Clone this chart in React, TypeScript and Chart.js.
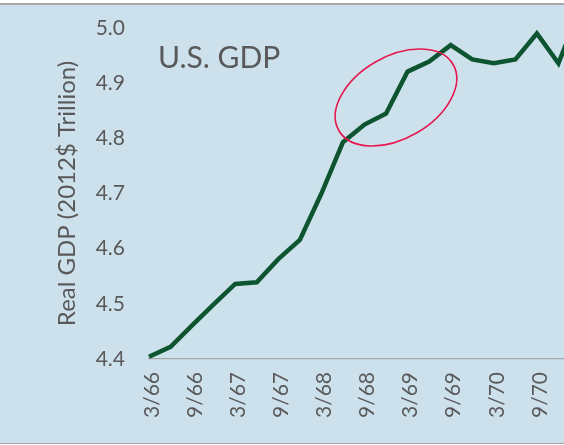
import React, { useEffect, useRef } from "react";
import { Chart, registerables } from "chart.js";

Chart.register(...registerables);

const quarterLabels = [
  "3/66", "6/66", "9/66", "12/66",
  "3/67", "6/67", "9/67", "12/67",
  "3/68", "6/68", "9/68", "12/68",
  "3/69", "6/69", "9/69", "12/69",
  "3/70", "6/70", "9/70", "12/70",
  "3/71",
];

const gdpValues = [
  4.404, 4.422, 4.461, 4.499,
  4.536, 4.539, 4.581, 4.616,
  4.700, 4.793, 4.825, 4.845,
  4.921, 4.939, 4.969, 4.943,
  4.936, 4.943, 4.990, 4.936,
  5.035,
];

const shownTickLabels = ["3/66", "9/66", "3/67", "9/67", "3/68", "9/68", "3/69", "9/69", "3/70", "9/70"];

const yMin = 4.4;
const yMax = 5.0;
const yStep = 0.1;

const chartTitle = "U.S. GDP";
const yAxisTitle = "Real GDP (2012$ Trillion)";

// annotation ellipse centre in data coordinates (category index, value)
const highlightCenter = { index: 11.46, value: 4.874 };

const FONT = "Lato, 'Noto Sans', sans-serif";
const TEXT_GRAY = "#595959";
const BG = "#cde1ed";

export default function App() {
  const canvasRef = useRef<HTMLCanvasElement | null>(null);

  useEffect(() => {
    const canvas = canvasRef.current;
    if (!canvas) return;

    const overlay = {
      id: "overlay",
      afterDatasetsDraw(chart: any) {
        const ctx = chart.ctx;
        const xs = chart.scales.x;
        const ys = chart.scales.y;
        ctx.save();
        ctx.fillStyle = TEXT_GRAY;
        ctx.font = `30px ${FONT}`;
        ctx.textAlign = "left";
        ctx.textBaseline = "alphabetic";
        ctx.fillText(chartTitle, 158, 68);
        ctx.restore();
        const cx = xs.getPixelForValue(highlightCenter.index);
        const cy = ys.getPixelForValue(highlightCenter.value);
        ctx.save();
        ctx.strokeStyle = "#e6194f";
        ctx.lineWidth = 1.6;
        ctx.beginPath();
        ctx.ellipse(cx, cy, 66, 41, -Math.PI / 6, 0, Math.PI * 2);
        ctx.stroke();
        ctx.restore();
      },
    };

    const chart = new Chart(canvas, {
      type: "line",
      data: {
        labels: quarterLabels,
        datasets: [
          {
            data: gdpValues,
            borderColor: "#0d5530",
            borderWidth: 4.5,
            pointRadius: 0,
            tension: 0,
            fill: false,
            clip: false as any,
          },
        ],
      },
      options: {
        responsive: false,
        animation: false,
        devicePixelRatio: 1,
        layout: { padding: { top: 28, right: 20, bottom: 0, left: 0 } },
        plugins: {
          legend: { display: false },
          tooltip: { enabled: false },
          title: { display: false },
        },
        scales: {
          x: {
            type: "category",
            offset: false,
            grid: { display: false, drawTicks: false },
            border: { display: true, color: "#a6a6a6", width: 1.2 },
            ticks: {
              autoSkip: false,
              minRotation: 90,
              maxRotation: 90,
              padding: 13,
              labelOffset: 3,
              color: TEXT_GRAY,
              font: { family: FONT, size: 21 },
              callback: (_v: any, i: number) =>
                shownTickLabels.includes(quarterLabels[i]) ? quarterLabels[i] : "",
            },
            afterFit: (s: any) => {
              s.height = 86;
              s.paddingLeft = 0;
              s.paddingRight = 0;
            },
          },
          y: {
            min: yMin,
            max: yMax,
            grid: { display: false, drawTicks: false },
            border: { display: false },
            ticks: {
              stepSize: yStep,
              padding: 24,
              color: TEXT_GRAY,
              font: { family: FONT, size: 21 },
              callback: (v: any) => Number(v).toFixed(1),
            },
            title: {
              display: true,
              text: yAxisTitle,
              color: TEXT_GRAY,
              font: { family: FONT, size: 24 },
              padding: { top: 53, bottom: 0 },
            },
            afterFit: (s: any) => {
              s.width = 149;
              s.paddingTop = 0;
              s.paddingBottom = 0;
            },
          },
        },
      },
      plugins: [overlay],
    });

    return () => {
      chart.destroy();
    };
  }, []);

  return (
    <div
      style={{
        position: "fixed",
        left: 0,
        top: 0,
        width: 564,
        height: 445,
        overflow: "hidden",
        background: "#ffffff",
      }}
    >
      <div
        style={{
          position: "absolute",
          left: 0,
          top: 3,
          width: 600,
          height: 438,
          background: BG,
          borderTop: "2px solid #a6a6a6",
          borderBottom: "1px solid #a6a6a6",
        }}
      />
      <canvas
        ref={canvasRef}
        width={600}
        height={445}
        style={{ position: "absolute", left: 0, top: 0, display: "block" }}
      />
    </div>
  );
}
